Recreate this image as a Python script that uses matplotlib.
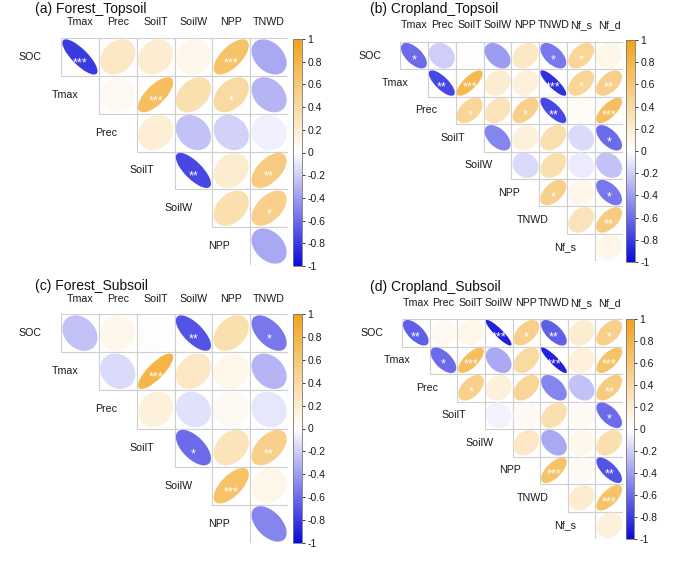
import matplotlib
matplotlib.use("Agg")
import matplotlib.pyplot as plt
from matplotlib.patches import Ellipse, Rectangle
from matplotlib.colors import LinearSegmentedColormap, Normalize
from matplotlib.cm import ScalarMappable
import numpy as np

plt.rcParams['font.family'] = ['Liberation Sans', 'DejaVu Sans']

# ---------------- data ----------------
titles = ["(a) Forest_Topsoil", "(b) Cropland_Topsoil", "(c) Forest_Subsoil", "(d) Cropland_Subsoil"]

forest_rows = ["SOC", "Tmax", "Prec", "SoilT", "SoilW", "NPP"]
forest_cols = ["Tmax", "Prec", "SoilT", "SoilW", "NPP", "TNWD"]
crop_rows = ["SOC", "Tmax", "Prec", "SoilT", "SoilW", "NPP", "TNWD", "Nf_s"]
crop_cols = ["Tmax", "Prec", "SoilT", "SoilW", "NPP", "TNWD", "Nf_s", "Nf_d"]

# upper-triangle values, row i starts at column i
forest_top_r = [
    [-0.80, 0.25, 0.20, 0.08, 0.65, -0.35],
    [0.05, 0.70, 0.35, 0.40, -0.30],
    [0.18, -0.25, -0.18, -0.07],
    [-0.75, 0.20, 0.55],
    [0.35, 0.50],
    [-0.35],
]
forest_top_sig = [
    ["***", "", "", "", "***", ""],
    ["", "***", "", "*", ""],
    ["", "", "", ""],
    ["**", "", "**"],
    ["", "*"],
    [""],
]

crop_top_r = [
    [-0.60, -0.20, 0.02, -0.40, 0.25, -0.55, 0.45, 0.10],
    [-0.75, 0.75, 0.20, 0.15, -0.85, 0.45, 0.50],
    [0.45, 0.30, 0.50, -0.75, 0.04, 0.70],
    [-0.50, 0.15, 0.35, -0.15, -0.60],
    [-0.15, 0.35, -0.08, -0.25],
    [0.50, 0.10, -0.55],
    [0.30, 0.55],
    [0.10],
]
crop_top_sig = [
    ["*", "", "", "", "", "*", "*", ""],
    ["**", "***", "", "", "***", "*", "**"],
    ["*", "", "*", "**", "", "***"],
    ["", "", "", "", "*"],
    ["", "", "", ""],
    ["*", "", "*"],
    ["", "**"],
    [""],
]

forest_sub_r = [
    [-0.25, 0.08, 0.02, -0.70, 0.35, -0.55],
    [-0.15, 0.80, 0.25, 0.10, -0.30],
    [0.15, -0.12, 0.05, -0.10],
    [-0.60, 0.30, 0.50],
    [0.65, 0.10],
    [-0.50],
]
forest_sub_sig = [
    ["", "", "", "**", "", "*"],
    ["", "***", "", "", ""],
    ["", "", "", ""],
    ["*", "", "**"],
    ["***", ""],
    [""],
]

crop_sub_r = [
    [-0.65, 0.05, 0.10, -0.90, 0.50, -0.65, 0.20, 0.50],
    [-0.60, 0.70, -0.35, 0.40, -0.90, 0.15, 0.65],
    [0.50, 0.15, 0.45, -0.50, -0.25, 0.55],
    [-0.05, 0.05, 0.35, 0.05, -0.60],
    [0.25, -0.35, 0.08, 0.35],
    [0.65, 0.05, -0.70],
    [0.20, 0.65],
    [0.15],
]
crop_sub_sig = [
    ["**", "", "", "***", "*", "**", "", "*"],
    ["*", "***", "", "", "***", "", "***"],
    ["*", "", "", "", "", "**"],
    ["", "", "", "", "*"],
    ["", "", "", ""],
    ["***", "", "**"],
    ["", "***"],
    [""],
]

cbar_ticks = [-1, -0.8, -0.6, -0.4, -0.2, 0, 0.2, 0.4, 0.6, 0.8, 1]
cbar_labels = ["-1", "-0.8", "-0.6", "-0.4", "-0.2", "0", "0.2", "0.4", "0.6", "0.8", "1"]

# ---------------- style ----------------
cmap = LinearSegmentedColormap.from_list("bwo", ["#0A0ADC", "#FFFFFF", "#F2A31A"])
norm = Normalize(-1, 1)
W, H = 700, 581

panels = [
    dict(title=titles[0], rows=forest_rows, cols=forest_cols, r=forest_top_r, sig=forest_top_sig,
         grid=(61, 38, 288, 265), cbar=(293, 39, 302, 266), title_xy=(35, 9), collab_y=22, gap=20),
    dict(title=titles[1], rows=crop_rows, cols=crop_cols, r=crop_top_r, sig=crop_top_sig,
         grid=(400, 42, 623, 261), cbar=(626, 40, 635, 262), title_xy=(370, 9), collab_y=25, gap=19),
    dict(title=titles[2], rows=forest_rows, cols=forest_cols, r=forest_sub_r, sig=forest_sub_sig,
         grid=(61, 314, 288, 543), cbar=(293, 314, 302, 543), title_xy=(35, 286), collab_y=299, gap=20),
    dict(title=titles[3], rows=crop_rows, cols=crop_cols, r=crop_sub_r, sig=crop_sub_sig,
         grid=(402, 319, 623, 539), cbar=(626, 319, 634, 539), title_xy=(370, 287), collab_y=303, gap=19),
]

fig = plt.figure(figsize=(7.0, 5.81), dpi=100)

def px_axes(x0, y0, x1, y1):
    return fig.add_axes([x0 / W, 1 - y1 / H, (x1 - x0) / W, (y1 - y0) / H])

for p in panels:
    x0, y0, x1, y1 = p["grid"]
    ax = px_axes(x0, y0, x1, y1)
    nr, nc = len(p["rows"]), len(p["cols"])
    ax.set_xlim(0, nc)
    ax.set_ylim(0, nr)
    ax.axis("off")
    cellw = (x1 - x0) / nc
    s = 0.465
    for i in range(nr):
        yc = nr - i - 0.5
        for k, val in enumerate(p["r"][i]):
            j = i + k
            xc = j + 0.5
            ax.add_patch(Rectangle((j, nr - i - 1), 1, 1, facecolor="white",
                                   edgecolor="#CFCFCF", lw=0.8, zorder=1))
            ax.add_patch(Ellipse((xc, yc), 2 * s * np.sqrt(1 + val), 2 * s * np.sqrt(1 - val),
                                 angle=45, facecolor=cmap(norm(val)), edgecolor="none", zorder=2))
            st = p["sig"][i][k]
            if st:
                ax.text(xc, yc - 0.17, st, color="white", fontsize=9, ha="center",
                        va="center", zorder=3)
        ax.text(i - p["gap"] / cellw, yc, p["rows"][i], ha="right", va="center",
                fontsize=7.7, color="#1A1A1A")
    for j, c in enumerate(p["cols"]):
        ax.text((x0 + (j + 0.5) * cellw) / W, 1 - p["collab_y"] / H, c, transform=fig.transFigure,
                ha="center", va="center", fontsize=7.7, color="#1A1A1A")
    fig.text(p["title_xy"][0] / W, 1 - p["title_xy"][1] / H, p["title"], ha="left", va="center",
             fontsize=10, color="#111111")
    cx0, cy0, cx1, cy1 = p["cbar"]
    cax = px_axes(cx0, cy0, cx1, cy1)
    cb = fig.colorbar(ScalarMappable(norm=norm, cmap=cmap), cax=cax, ticks=cbar_ticks)
    cb.ax.set_yticklabels(cbar_labels)
    cb.ax.tick_params(labelsize=7.5, length=2.5, width=0.6, pad=1.5, colors="#1A1A1A")
    cb.outline.set_linewidth(0.6)
    cb.outline.set_edgecolor("#777777")

fig.savefig("out.png", dpi=100)
